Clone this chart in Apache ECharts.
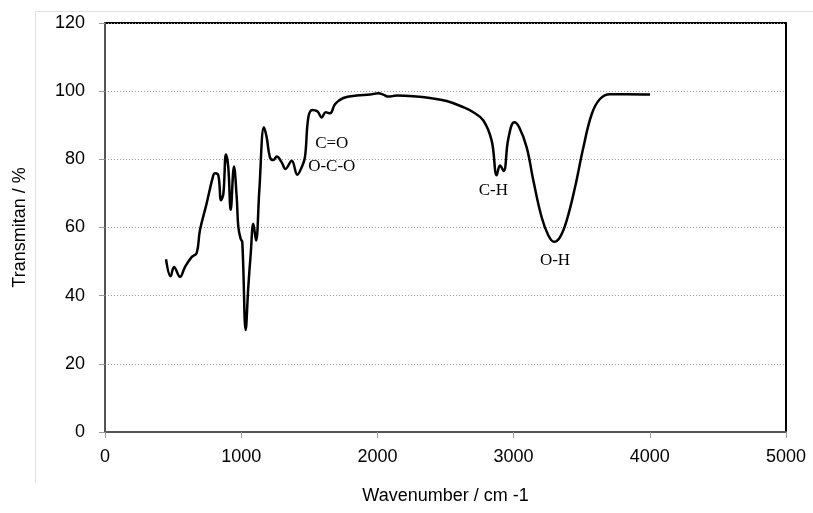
<!DOCTYPE html>
<html>
<head>
<meta charset="utf-8">
<script src="https://cdn.jsdelivr.net/npm/echarts@6/dist/echarts.min.js"></script>
<style>
  html, body { margin: 0; padding: 0; background: #fff; }
  #container { width: 813px; height: 513px; }
</style>
</head>
<body>
<div id="container"></div>
<script>
// spectrum: wavenumber (cm-1) and transmittance (%)
var wavenumber = [448, 482, 507, 551, 587, 636, 673, 697, 746, 795, 808, 832, 852, 869, 888, 905, 923, 947, 967, 979,
    996, 1008, 1033, 1052, 1070, 1089, 1109, 1133, 1167, 1187, 1211, 1236, 1261, 1297, 1325, 1371, 1412, 1444, 1468, 1493,
    1522, 1559, 1591, 1620, 1652, 1689, 1750, 1848, 1946, 2007, 2043, 2080, 2142, 2264, 2386, 2509, 2631, 2704, 2778, 2839,
    2876, 2900, 2927, 2961, 3005, 3041, 3096, 3145, 3206, 3255, 3297, 3341, 3390, 3451, 3512, 3574, 3634, 3708, 3830, 4002];
var transmitan = [50.7, 45.7, 48.4, 45.5, 48.4, 51.3, 52.5, 59.2, 67, 75.3, 75.9, 75.3, 68, 69.9, 81.4, 77.7, 65.2, 77.9, 68.9, 60.1,
    56.7, 55.7, 29.9, 42.5, 52.3, 61.1, 56.2, 70.9, 89.4, 86.5, 80.6, 79.8, 80.8, 79.1, 77.2, 79.6, 75.5, 77.7, 80.6, 92.3,
    94.5, 94.1, 92.3, 93.8, 93.5, 96.2, 98, 98.7, 99, 99.4, 99, 98.4, 98.7, 98.5, 98, 97.1, 95.3, 93.8, 91.4, 85.5,
    75.3, 78.2, 76.6, 86, 90.9, 89.4, 83.5, 73.8, 63, 57.7, 55.8, 57.2, 62.1, 71.8, 83.5, 93.3, 97.7, 99.1, 99.1, 99];

// band labels
var bandNames = ['C=O', 'O-C-O', 'C-H', 'O-H'];
var bandX = [1665, 1665, 2851, 3304];
var bandY = [84.5, 77.9, 70.7, 50.4];

var xTicks = [0, 1000, 2000, 3000, 4000, 5000];
var yTicks = [0, 20, 40, 60, 80, 100, 120];

var dom = document.getElementById('container');
var myChart = echarts.init(dom);

var lineData = [];
for (var i = 0; i < wavenumber.length; i++) {
    lineData.push([wavenumber[i], transmitan[i]]);
}
var bandData = [];
for (var j = 0; j < bandNames.length; j++) {
    bandData.push({ name: bandNames[j], value: [bandX[j], bandY[j]] });
}

var axisFont = { fontFamily: 'Liberation Sans', fontSize: 18, color: '#000' };

var option = {
    animation: false,
    backgroundColor: '#fff',
    grid: {
        left: 105, right: 27, top: 23, bottom: 81,
        outerBoundsMode: 'none',
        containLabel: false,
        show: true, borderColor: '#000', borderWidth: 2
    },
    graphic: [
        {
            type: 'polyline',
            shape: { points: [[35.5, 483], [35.5, 11.5], [813, 11.5]] },
            style: { stroke: '#e0e0e0', lineWidth: 1, fill: null },
            silent: true
        }
    ],
    xAxis: {
        type: 'value',
        min: xTicks[0], max: xTicks[xTicks.length - 1], interval: 1000,
        name: 'Wavenumber / cm -1',
        nameLocation: 'middle',
        nameGap: 55,
        nameTextStyle: axisFont,
        axisLine: { show: true, lineStyle: { color: '#555', width: 2 } },
        axisTick: { show: true, inside: false, length: 6, lineStyle: { color: '#999' } },
        axisLabel: {
            margin: 16, fontFamily: 'Liberation Sans', fontSize: 18, color: '#000',
            formatter: function (v) { return String(v); }
        },
        splitLine: { show: false }
    },
    yAxis: {
        type: 'value',
        min: yTicks[0], max: yTicks[yTicks.length - 1], interval: 20,
        name: 'Transmitan / %',
        nameLocation: 'middle',
        nameGap: 76,
        nameTextStyle: axisFont,
        axisLine: { show: true, lineStyle: { color: '#555', width: 2 } },
        axisTick: { show: true, inside: false, length: 6, lineStyle: { color: '#999' } },
        axisLabel: {
            margin: 20, fontFamily: 'Liberation Sans', fontSize: 18, color: '#000',
            formatter: function (v) { return String(v); }
        },
        splitLine: { show: true, lineStyle: { color: '#999', type: [1, 2], width: 1 } }
    },
    series: [
        {
            type: 'line',
            data: lineData,
            showSymbol: false,
            smooth: 0.4,
            lineStyle: { color: '#000', width: 2.5 },
            z: 3
        },
        {
            type: 'scatter',
            data: bandData,
            symbolSize: 0,
            itemStyle: { opacity: 1 },
            label: {
                show: true,
                position: 'inside',
                formatter: '{b}',
                fontFamily: 'Liberation Serif',
                fontSize: 17,
                color: '#000',
                opacity: 1,
                textBorderWidth: 0
            },
            z: 4
        }
    ]
};
myChart.setOption(option, true);
</script>
</body>
</html>
